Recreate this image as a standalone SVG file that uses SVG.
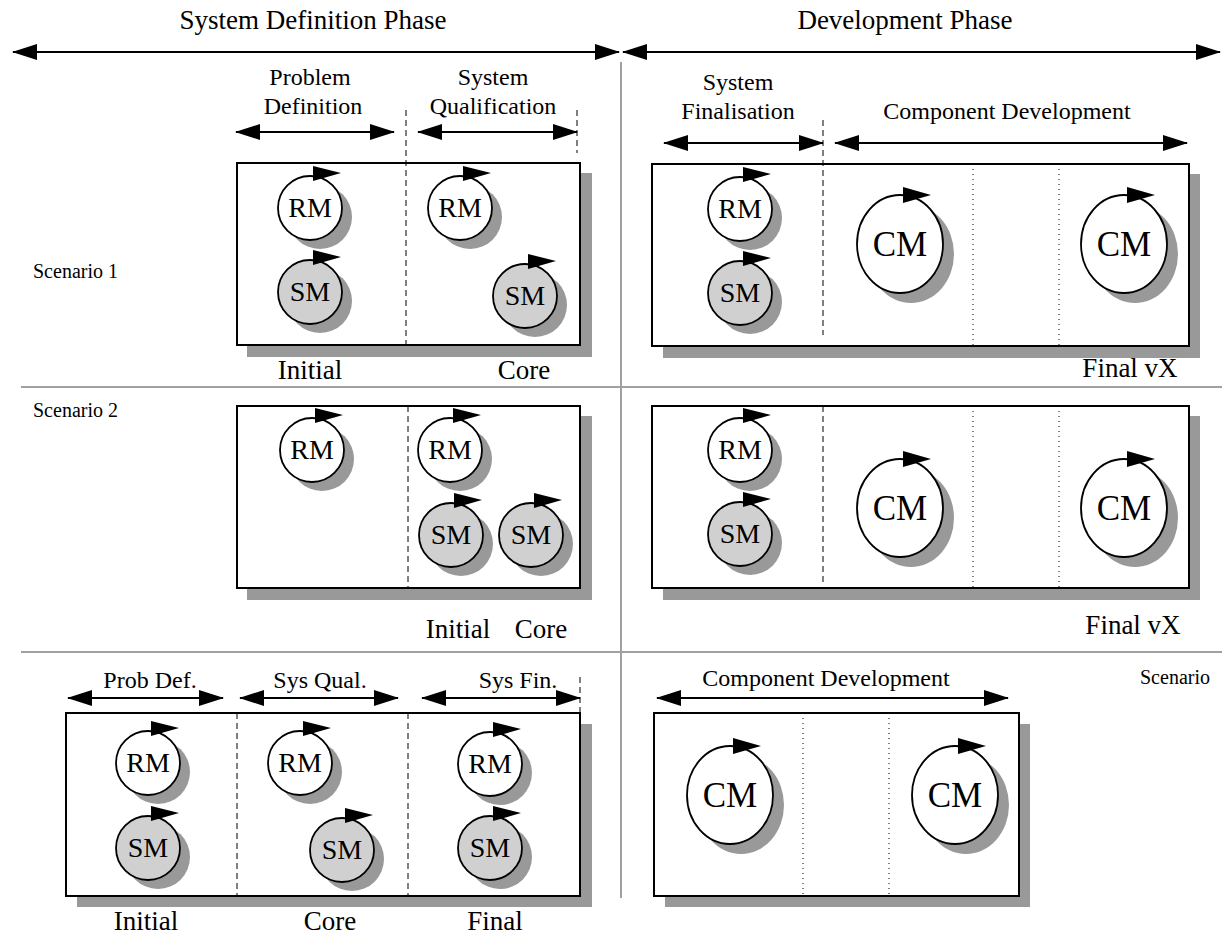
<svg xmlns="http://www.w3.org/2000/svg" width="1222" height="936" viewBox="0 0 1222 936">
  <style>
    text { font-family: "Liberation Serif", "Times New Roman", serif; fill: #000; }
    .title { font-size: 27px; text-anchor: middle; }
    .lbl { font-size: 24px; text-anchor: middle; }
    .big { font-size: 27px; text-anchor: middle; }
    .scn { font-size: 20px; }
    .mtxt { font-size: 28px; text-anchor: middle; }
    .ctxt { font-size: 35px; text-anchor: middle; }
    .sep { stroke: #a0a0a0; stroke-width: 2; fill: none; }
    .shadow { fill: #999999; stroke: none; }
    .box { fill: #ffffff; stroke: #000; stroke-width: 2; }
    .dash { stroke: #000; stroke-width: 1; stroke-dasharray: 6 4; fill: none; }
    .dot { stroke: #000; stroke-width: 1; stroke-dasharray: 1 4; fill: none; }
    .arr { stroke: #000; stroke-width: 2; fill: none; marker-start: url(#head); marker-end: url(#head); }
    .ring { stroke: #000; stroke-width: 1.8; }
    .tip { fill: #000; }
  </style>
  <defs>
    <marker id="head" viewBox="0 0 25 16" refX="24" refY="8" markerWidth="25" markerHeight="16" markerUnits="userSpaceOnUse" orient="auto-start-reverse">
      <path d="M0,0 L25,8 L0,16 z" fill="#000"/>
    </marker>
    <!-- small cycle module: shadow, ring, turning arrowhead -->
    <g id="cyc">
      <circle cx="10" cy="9" r="32" class="shadow"/>
      <circle cx="0" cy="0" r="32" class="ring" fill="inherit"/>
      <path d="M3,-42 L31,-35 L3,-27 z" class="tip"/>
    </g>
    <!-- component cycle module: larger ellipse -->
    <g id="ccyc">
      <ellipse cx="11" cy="10" rx="43" ry="49" class="shadow"/>
      <ellipse cx="0" cy="0" rx="43" ry="49" class="ring" fill="#ffffff"/>
      <path d="M3,-57 L31,-49 L3,-41 z" class="tip"/>
    </g>
  </defs>

  <!-- phase headings -->
  <g id="phase-definition">
    <text class="title" x="313" y="29">System Definition Phase</text>
  </g>
  <g id="phase-development">
    <text class="title" x="905" y="29">Development Phase</text>
  </g>

  <!-- grid separators -->
  <g id="separators">
    <line class="sep" x1="621" y1="62" x2="621" y2="898"/>
    <line class="sep" x1="21" y1="387" x2="1222" y2="387"/>
    <line class="sep" x1="21" y1="652" x2="1222" y2="652"/>
  </g>

  <!-- scenario captions -->
  <g id="scenario-labels">
    <text class="scn" x="33" y="278">Scenario 1</text>
    <text class="scn" x="33" y="417">Scenario 2</text>
    <text class="scn" x="1140" y="684">Scenario</text>
  </g>

  <!-- ========== Scenario 1, definition phase ========== -->
  <g id="s1-def-frame">
    <rect class="shadow" x="247" y="173" width="345" height="184"/>
    <rect class="box" x="237" y="163" width="343" height="182"/>
    <line class="dash" x1="406" y1="110" x2="406" y2="345"/>
    <line class="dash" x1="577" y1="110" x2="577" y2="153"/>
    <text class="lbl" x="310" y="85">Problem</text>
    <text class="lbl" x="313" y="114">Definition</text>
    <text class="lbl" x="493" y="85">System</text>
    <text class="lbl" x="493" y="114">Qualification</text>
    <text class="big" x="310" y="379">Initial</text>
    <text class="big" x="524" y="379">Core</text>
  </g>
  <g id="s1-rm1" transform="translate(310,208)"><use href="#cyc" fill="#ffffff"/><text class="mtxt" x="0" y="9">RM</text></g>
  <g id="s1-sm1" transform="translate(310,292)"><use href="#cyc" fill="#d0d0d0"/><text class="mtxt" x="0" y="9">SM</text></g>
  <g id="s1-rm2" transform="translate(460,208)"><use href="#cyc" fill="#ffffff"/><text class="mtxt" x="0" y="9">RM</text></g>
  <g id="s1-sm2" transform="translate(525,296)"><use href="#cyc" fill="#d0d0d0"/><text class="mtxt" x="0" y="9">SM</text></g>

  <!-- ========== Scenario 1, development phase ========== -->
  <g id="s1-dev-frame">
    <rect class="shadow" x="663" y="174" width="537" height="184"/>
    <rect class="box" x="652" y="164" width="537" height="182"/>
    <line class="dash" x1="823" y1="120" x2="823" y2="335"/>
    <line class="dot" x1="973" y1="164" x2="973" y2="346"/>
    <line class="dot" x1="1059" y1="164" x2="1059" y2="346"/>
    <text class="lbl" x="738" y="90">System</text>
    <text class="lbl" x="738" y="119">Finalisation</text>
    <text class="lbl" x="1007" y="119">Component Development</text>
    <text class="big" x="1130" y="377">Final vX</text>
  </g>
  <g id="s1-rm3" transform="translate(740,209)"><use href="#cyc" fill="#ffffff"/><text class="mtxt" x="0" y="9">RM</text></g>
  <g id="s1-sm3" transform="translate(740,293)"><use href="#cyc" fill="#d0d0d0"/><text class="mtxt" x="0" y="9">SM</text></g>
  <g id="s1-cm1" transform="translate(900,244)"><use href="#ccyc"/><text class="ctxt" x="0" y="12">CM</text></g>
  <g id="s1-cm2" transform="translate(1124,244)"><use href="#ccyc"/><text class="ctxt" x="0" y="12">CM</text></g>

  <!-- ========== Scenario 2, definition phase ========== -->
  <g id="s2-def-frame">
    <rect class="shadow" x="247" y="416" width="345" height="184"/>
    <rect class="box" x="237" y="406" width="343" height="182"/>
    <line class="dash" x1="408" y1="406" x2="408" y2="588"/>
    <text class="big" x="458" y="638">Initial</text>
    <text class="big" x="541" y="638">Core</text>
  </g>
  <g id="s2-rm1" transform="translate(312,450)"><use href="#cyc" fill="#ffffff"/><text class="mtxt" x="0" y="9">RM</text></g>
  <g id="s2-rm2" transform="translate(450,450)"><use href="#cyc" fill="#ffffff"/><text class="mtxt" x="0" y="9">RM</text></g>
  <g id="s2-sm1" transform="translate(451,535)"><use href="#cyc" fill="#d0d0d0"/><text class="mtxt" x="0" y="9">SM</text></g>
  <g id="s2-sm2" transform="translate(531,535)"><use href="#cyc" fill="#d0d0d0"/><text class="mtxt" x="0" y="9">SM</text></g>

  <!-- ========== Scenario 2, development phase ========== -->
  <g id="s2-dev-frame">
    <rect class="shadow" x="663" y="416" width="537" height="184"/>
    <rect class="box" x="652" y="406" width="537" height="182"/>
    <line class="dash" x1="823" y1="406" x2="823" y2="585"/>
    <line class="dot" x1="973" y1="406" x2="973" y2="588"/>
    <line class="dot" x1="1059" y1="406" x2="1059" y2="588"/>
    <text class="big" x="1133" y="634">Final vX</text>
  </g>
  <g id="s2-rm3" transform="translate(740,450)"><use href="#cyc" fill="#ffffff"/><text class="mtxt" x="0" y="9">RM</text></g>
  <g id="s2-sm3" transform="translate(740,534)"><use href="#cyc" fill="#d0d0d0"/><text class="mtxt" x="0" y="9">SM</text></g>
  <g id="s2-cm1" transform="translate(900,508)"><use href="#ccyc"/><text class="ctxt" x="0" y="12">CM</text></g>
  <g id="s2-cm2" transform="translate(1124,508)"><use href="#ccyc"/><text class="ctxt" x="0" y="12">CM</text></g>

  <!-- ========== Scenario 3, definition phase ========== -->
  <g id="s3-def-frame">
    <rect class="shadow" x="77" y="724" width="515" height="183"/>
    <rect class="box" x="66" y="713" width="514" height="183"/>
    <line class="dash" x1="237" y1="713" x2="237" y2="896"/>
    <line class="dash" x1="408" y1="713" x2="408" y2="896"/>
    <line class="dash" x1="580" y1="677" x2="580" y2="713"/>
    <text class="lbl" x="150" y="688">Prob Def.</text>
    <text class="lbl" x="320" y="688">Sys Qual.</text>
    <text class="lbl" x="518" y="688">Sys Fin.</text>
    <text class="big" x="146" y="930">Initial</text>
    <text class="big" x="330" y="930">Core</text>
    <text class="big" x="495" y="930">Final</text>
  </g>
  <g id="s3-rm1" transform="translate(148,763)"><use href="#cyc" fill="#ffffff"/><text class="mtxt" x="0" y="9">RM</text></g>
  <g id="s3-sm1" transform="translate(148,848)"><use href="#cyc" fill="#d0d0d0"/><text class="mtxt" x="0" y="9">SM</text></g>
  <g id="s3-rm2" transform="translate(300,763)"><use href="#cyc" fill="#ffffff"/><text class="mtxt" x="0" y="9">RM</text></g>
  <g id="s3-sm2" transform="translate(342,850)"><use href="#cyc" fill="#d0d0d0"/><text class="mtxt" x="0" y="9">SM</text></g>
  <g id="s3-rm3" transform="translate(490,764)"><use href="#cyc" fill="#ffffff"/><text class="mtxt" x="0" y="9">RM</text></g>
  <g id="s3-sm3" transform="translate(490,848)"><use href="#cyc" fill="#d0d0d0"/><text class="mtxt" x="0" y="9">SM</text></g>

  <!-- ========== Scenario 3, development phase ========== -->
  <g id="s3-dev-frame">
    <rect class="shadow" x="665" y="724" width="365" height="183"/>
    <rect class="box" x="654" y="713" width="365" height="183"/>
    <line class="dot" x1="803" y1="713" x2="803" y2="896"/>
    <line class="dot" x1="889" y1="713" x2="889" y2="896"/>
    <text class="lbl" x="826" y="686">Component Development</text>
  </g>
  <g id="s3-cm1" transform="translate(730,795)"><use href="#ccyc"/><text class="ctxt" x="0" y="12">CM</text></g>
  <g id="s3-cm2" transform="translate(955,795)"><use href="#ccyc"/><text class="ctxt" x="0" y="12">CM</text></g>

  <!-- span arrows -->
  <g id="connectors">
    <line class="arr" x1="13" y1="52" x2="619" y2="52"/>
    <line class="arr" x1="623" y1="52" x2="1220" y2="52"/>
    <line class="arr" x1="236" y1="132" x2="394" y2="132"/>
    <line class="arr" x1="418" y1="132" x2="577" y2="132"/>
    <line class="arr" x1="664" y1="143" x2="823" y2="143"/>
    <line class="arr" x1="835" y1="143" x2="1187" y2="143"/>
    <line class="arr" x1="68" y1="698" x2="223" y2="698"/>
    <line class="arr" x1="240" y1="698" x2="398" y2="698"/>
    <line class="arr" x1="422" y1="698" x2="580" y2="698"/>
    <line class="arr" x1="657" y1="698" x2="1008" y2="698"/>
  </g>
</svg>
